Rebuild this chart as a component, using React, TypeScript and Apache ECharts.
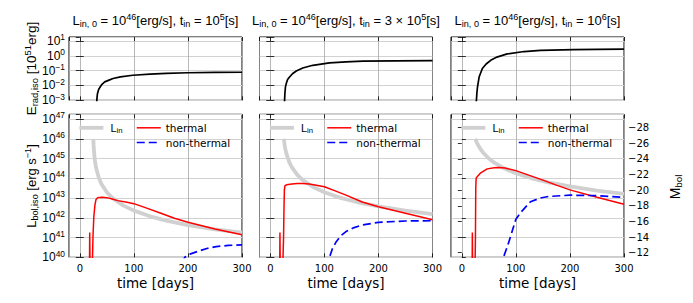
import React, { useEffect, useRef } from 'react';
import * as echarts from 'echarts';

// ---------- data ----------
const panelTitles = [
  'L{sub|in, 0}{t| = }10{sup|46}[erg/s], t{sub|in}{t| = }10{sup|5}[s]',
  'L{sub|in, 0}{t| = }10{sup|46}[erg/s], t{sub|in}{t| = }3 × 10{sup|5}[s]',
  'L{sub|in, 0}{t| = }10{sup|46}[erg/s], t{sub|in}{t| = }10{sup|6}[s]',
];

// radiated energy [1e51 erg] vs time [days]
const eRad1: [number, number][] = [
  [31, 5e-4], [31.6, 1.2e-3], [32.6, 2.8e-3], [35, 5.5e-3], [37, 7.2e-3], [41, 1.2e-2], [46, 1.74e-2],
  [54, 2.3e-2], [61.5, 2.95e-2], [75, 3.8e-2], [98, 4.9e-2], [130, 5.9e-2], [160, 6.6e-2], [200, 7.2e-2],
  [250, 7.6e-2], [300, 7.8e-2],
];
const eRad2: [number, number][] = [
  [26, 5e-4], [26.4, 1e-3], [27, 3e-3], [28, 8e-3], [29.5, 1.35e-2], [32, 2.5e-2], [35.6, 3.7e-2],
  [41, 6.2e-2], [48, 9.5e-2], [60, 0.15], [78.6, 0.23], [109.5, 0.33], [140, 0.39], [171, 0.44],
  [232, 0.46], [300, 0.48],
];
const eRad3: [number, number][] = [
  [26.5, 5e-4], [27, 1e-3], [28, 3.5e-3], [29, 7.9e-3], [32, 3.7e-2], [38, 0.14], [45, 0.28], [53.4, 0.5],
  [65, 0.82], [84, 1.35], [115, 1.95], [145.6, 2.3], [207, 2.63], [250, 2.75], [300, 2.82],
];

// input luminosity L_in [erg/s]
const lIn1: [number, number][] = [
  [25, 1e46], [25.5, 4.9e45], [26, 2.88e45], [27, 1.34e45], [28, 7.75e44], [30, 3.53e44], [35, 1.08e44],
  [40, 5.13e43], [50, 1.96e43], [60, 1.02e43], [80, 4.25e42], [100, 2.31e42], [130, 1.19e42],
  [160, 7.22e41], [200, 4.31e41], [250, 2.62e41], [300, 1.76e41],
];
const lIn2: [number, number][] = [
  [25, 1e46], [26, 6.03e45], [27, 4.03e45], [28, 2.88e45], [30, 1.68e45], [35, 6.64e44], [40, 3.53e44],
  [50, 1.49e44], [60, 8.14e43], [80, 3.53e43], [100, 1.96e43], [130, 1.02e43], [160, 6.29e42],
  [200, 3.79e42], [250, 2.31e42], [300, 1.55e42],
];
const lIn3: [number, number][] = [
  [25, 1e46], [26, 8.47e45], [27, 7.27e45], [28, 6.31e45], [30, 4.88e45], [35, 2.88e45], [40, 1.9e45],
  [50, 1.0e45], [60, 6.18e44], [80, 3.02e44], [100, 1.79e44], [130, 9.86e43], [160, 6.24e43],
  [200, 3.85e43], [250, 2.39e43], [300, 1.63e43],
];

// thermal bolometric luminosity [erg/s]
const thermal1: [number, number][] = [
  [17.5, 1e38], [18.3, 1.8e41], [19.6, 1e38], [22.8, 1e38], [23.5, 1e40], [24.5, 1.5e41], [26, 1.2e42],
  [28, 4.5e42], [30, 8.5e42], [33, 1.05e43], [40, 1.1e43], [50, 1.05e43], [60, 8.9e42], [70, 7.4e42],
  [85, 6.3e42], [100, 5.2e42], [125, 3.0e42], [150, 1.7e42], [175, 9.5e41], [200, 5.9e41],
  [250, 2.7e41], [300, 1.4e41],
];
const thermal2: [number, number][] = [
  [17, 1e38], [17.8, 1.8e41], [18.8, 1e38], [22.5, 1e38], [23.5, 1e40], [24.5, 1e41], [25.3, 3e42],
  [26, 2.5e43], [27, 4.2e43], [30, 4.7e43], [40, 5.2e43], [50, 5.5e43], [60, 5.4e43], [72, 5.1e43],
  [85, 4.5e43], [100, 3.7e43], [120, 2.3e43], [140, 1.4e43], [170, 6.3e42], [200, 3.6e42],
  [250, 1.7e42], [300, 8.0e41],
];
const thermal3: [number, number][] = [
  [18.8, 1e38], [19.5, 1.8e41], [20.5, 1e38], [24, 1e38], [24.7, 1e40], [25.2, 1e41], [25.8, 3e43],
  [26.5, 1e44], [28, 1.15e44], [35, 1.9e44], [47, 3.0e44], [60, 3.4e44], [68, 3.5e44], [80, 3.3e44],
  [100, 2.45e44], [125, 1.4e44], [150, 8.1e43], [175, 4.5e43], [200, 2.6e43], [250, 1.1e43],
  [300, 4.8e42],
];

// non-thermal luminosity [erg/s]
const nonThermal1: [number, number][] = [
  [190, 5e39], [194, 1e40], [205, 1.5e40], [221, 2.1e40], [235, 2.8e40], [252, 3.5e40], [275, 4.0e40],
  [300, 4.3e40],
];
const nonThermal2: [number, number][] = [
  [106, 3e39], [109.5, 1e40], [115, 2.8e40], [122, 6.2e40], [130, 1.2e41], [140, 2.0e41], [155, 3.2e41],
  [171, 4.4e41], [200, 5.9e41], [250, 6.9e41], [300, 7.1e41],
];
const nonThermal3: [number, number][] = [
  [74, 3e39], [77, 1e40], [85, 4e40], [91, 1.35e41], [100, 8.5e41], [110, 2.0e42], [127, 6.5e42],
  [145, 1.0e43], [160, 1.2e43], [200, 1.4e43], [250, 1.32e43], [300, 1.07e43],
];

const eRad = [eRad1, eRad2, eRad3];
const lIn = [lIn1, lIn2, lIn3];
const thermal = [thermal1, thermal2, thermal3];
const nonThermal = [nonThermal1, nonThermal2, nonThermal3];

// axis extents
const xMin = -20;
const xMax = 300;
const eMin = 1e-3;
const eMax = Math.pow(10, 1.27);
const lMin = 1e40;
const lMax = Math.pow(10, 47.24);
const mTop = -29.72;
const mBottom = -11.41;

// ---------- layout ----------
const panelLeft = [69, 259.5, 451];
const panelWidth = 173;
const topY = 37;
const topH = 63.3;
const botY = 114.3;
const botH = 143;

const MATH = 'Liberation Sans';
const TXT = 'DejaVu Sans';

const mathRich = (size: number) => ({
  sub: { fontSize: size * 0.7, fontFamily: MATH, verticalAlign: 'bottom', lineHeight: size * 0.62, fill: '#000', color: '#000' },
  sup: { fontSize: size * 0.7, fontFamily: MATH, verticalAlign: 'top', lineHeight: size * 0.62, fill: '#000', color: '#000' },
  t: { fontSize: size, fontFamily: MATH, fill: '#000', color: '#000' },
  b: { fontSize: size, fontFamily: MATH, lineHeight: size * 1.3, fill: '#000', color: '#000' },
});

const logFmt = (v: number) => {
  const e = Math.round(Math.log10(v));
  const s = e < 0 ? '−' + -e : String(e);
  return `{b|10}{sup|${s}}`;
};

const noSymbol = { color: 'rgba(0,0,0,0)', borderColor: 'rgba(0,0,0,0)', borderWidth: 0, opacity: 0 };

export default function App() {
  const ref = useRef<HTMLDivElement>(null);
  useEffect(() => {
    if (!ref.current) return;
    const chart = echarts.init(ref.current, undefined, { renderer: 'svg' });

    const grids: any[] = [];
    const xAxes: any[] = [];
    const yAxes: any[] = [];
    const series: any[] = [];
    const legends: any[] = [];
    const graphics: any[] = [];

    const tickStyle = { show: true, inside: true, length: 4, lineStyle: { color: '#000', width: 0.8 } };

    for (let row = 0; row < 2; row++) {
      for (let i = 0; i < 3; i++) {
        const gi = row * 3 + i;
        grids.push({
          left: panelLeft[i], top: row === 0 ? topY : botY, width: panelWidth,
          height: row === 0 ? topH : botH, show: true, borderColor: '#000', borderWidth: 1,
          backgroundColor: 'transparent', containLabel: false,
        });
        xAxes.push({
          type: 'value', gridIndex: gi, min: xMin, max: xMax, minInterval: 100, maxInterval: 100,
          axisLine: { show: false }, axisTick: tickStyle,
          axisLabel: row === 1
            ? { show: true, showMinLabel: false, fontSize: 10, fontFamily: TXT, color: '#000', margin: 6 }
            : { show: false },
          splitLine: { show: true, lineStyle: { color: '#a6a6a6', width: 0.8 } },
          name: row === 1 ? 'time [days]' : '', nameLocation: 'middle', nameGap: 19,
          nameTextStyle: { fontSize: 13.5, fontFamily: TXT, color: '#000' },
        });
        const showLbl = i === 0;
        yAxes.push({
          type: 'log', logBase: 10, gridIndex: gi,
          min: row === 0 ? eMin : lMin, max: row === 0 ? eMax : lMax,
          axisLine: { show: false }, axisTick: tickStyle,
          axisLabel: showLbl
            ? { show: true, showMaxLabel: false, formatter: logFmt, margin: 4, color: '#000', fontFamily: MATH, fontSize: 12, rich: mathRich(12) }
            : { show: false },
          splitLine: { show: true, lineStyle: { color: '#d2d2d2', width: 1.2 } },
        });
      }
    }
    // M_bol axis on the right of the last bottom panel (yAxisIndex 6)
    yAxes.push({
      type: 'value', gridIndex: 5, position: 'right', inverse: true, min: mTop, max: mBottom,
      minInterval: 2, maxInterval: 2,
      axisLine: { show: false }, axisTick: tickStyle,
      axisLabel: {
        show: true, showMinLabel: false, showMaxLabel: false, margin: 4, color: '#000', fontSize: 10, fontFamily: TXT,
        formatter: (v: number) => (Number.isInteger(v) ? String(v).replace('-', '−') : ''),
      },
      splitLine: { show: false },
    });
    // mirrored tick-only axes (right side and top side)
    for (let gi = 0; gi < 6; gi++) {
      const row = gi < 3 ? 0 : 1;
      if (gi !== 5) {
        yAxes.push({
          type: 'log', logBase: 10, gridIndex: gi, position: 'right',
          min: row === 0 ? eMin : lMin, max: row === 0 ? eMax : lMax,
          axisLine: { show: false }, axisTick: tickStyle, axisLabel: { show: false }, splitLine: { show: false },
        });
      }
      xAxes.push({
        type: 'value', gridIndex: gi, position: 'top', min: xMin, max: xMax, minInterval: 100, maxInterval: 100,
        axisLine: { show: false }, axisTick: tickStyle, axisLabel: { show: false }, splitLine: { show: false },
      });
    }

    for (let i = 0; i < 3; i++) {
      series.push({
        type: 'line', name: 'E', xAxisIndex: i, yAxisIndex: i, data: eRad[i], symbol: 'none',
        lineStyle: { color: '#000', width: 1.7 }, itemStyle: { color: '#000' }, silent: true, clip: true,
      });
      series.push({
        type: 'line', name: 'L_in', xAxisIndex: 3 + i, yAxisIndex: 3 + i, data: lIn[i], symbol: 'none',
        lineStyle: { color: '#d0d0d0', width: 3.8 }, itemStyle: { color: '#d0d0d0' }, silent: true, clip: true, z: 1,
      });
      series.push({
        type: 'line', name: 'thermal', xAxisIndex: 3 + i, yAxisIndex: 3 + i, data: thermal[i], symbol: 'none',
        lineStyle: { color: '#ff0000', width: 1.5 }, itemStyle: { color: '#ff0000' }, silent: true, clip: true, z: 2,
      });
      series.push({
        type: 'line', name: 'non-thermal', xAxisIndex: 3 + i, yAxisIndex: 3 + i, data: nonThermal[i], symbol: 'none',
        lineStyle: { color: '#0000ff', width: 1.7, type: [8, 4] }, itemStyle: { color: '#0000ff' }, silent: true, clip: true, z: 3,
      });

      legends.push({
        data: ['L_in'], left: panelLeft[i] + 8.5, top: 122.3, orient: 'vertical', itemWidth: 24, itemHeight: 12,
        padding: 0, selectedMode: false,
        formatter: () => '{b|L}{sub|in}',
        textStyle: { color: '#000', fontFamily: MATH, fontSize: 11, rich: mathRich(11), padding: [0, 0, 0, 2] },
        lineStyle: { width: 3.8, color: '#d0d0d0' },
        itemStyle: noSymbol,
      });
      legends.push({
        data: ['thermal', 'non-thermal'], left: panelLeft[i] + 67, top: 122.3, orient: 'vertical',
        itemWidth: 24, itemHeight: 12, itemGap: 3.7, padding: 0, selectedMode: false,
        textStyle: { color: '#000', fontFamily: TXT, fontSize: 10.5 },
        lineStyle: { width: 1.5 },
        itemStyle: noSymbol,
      });

      graphics.push({
        type: 'text', x: panelLeft[i] + panelWidth / 2, y: 20.5,
        style: {
          text: panelTitles[i], rich: mathRich(13), fontSize: 13, fontFamily: MATH, fill: '#000',
          align: 'center', verticalAlign: 'middle', lineHeight: 16,
        },
      });
    }

    graphics.push({
      type: 'text', x: 31, y: 68.5, rotation: Math.PI / 2,
      style: {
        text: 'E{sub|rad,iso} [10{sup|51}erg]', rich: mathRich(13.5), fontSize: 13.5, fontFamily: MATH, fill: '#000',
        align: 'center', verticalAlign: 'middle', lineHeight: 16,
      },
    });
    graphics.push({
      type: 'text', x: 31, y: 186, rotation: Math.PI / 2,
      style: {
        text: 'L{sub|bol,iso} [erg s{sup|−1}]', rich: mathRich(13), fontSize: 13, fontFamily: MATH, fill: '#000',
        align: 'center', verticalAlign: 'middle', lineHeight: 16,
      },
    });
    graphics.push({
      type: 'text', x: 675, y: 187, rotation: Math.PI / 2,
      style: {
        text: 'M{sub|bol}', rich: mathRich(14), fontSize: 14, fontFamily: MATH, fill: '#000',
        align: 'center', verticalAlign: 'middle', lineHeight: 17,
      },
    });

    chart.setOption({
      animation: false,
      backgroundColor: '#ffffff',
      grid: grids,
      xAxis: xAxes,
      yAxis: yAxes,
      legend: legends,
      series,
      graphic: graphics,
      tooltip: { show: false },
    });
    return () => chart.dispose();
  }, []);

  return (
    <div
      ref={ref}
      style={{ position: 'absolute', left: 0, top: 0, width: 693, height: 303, background: '#fff' }}
    />
  );
}
